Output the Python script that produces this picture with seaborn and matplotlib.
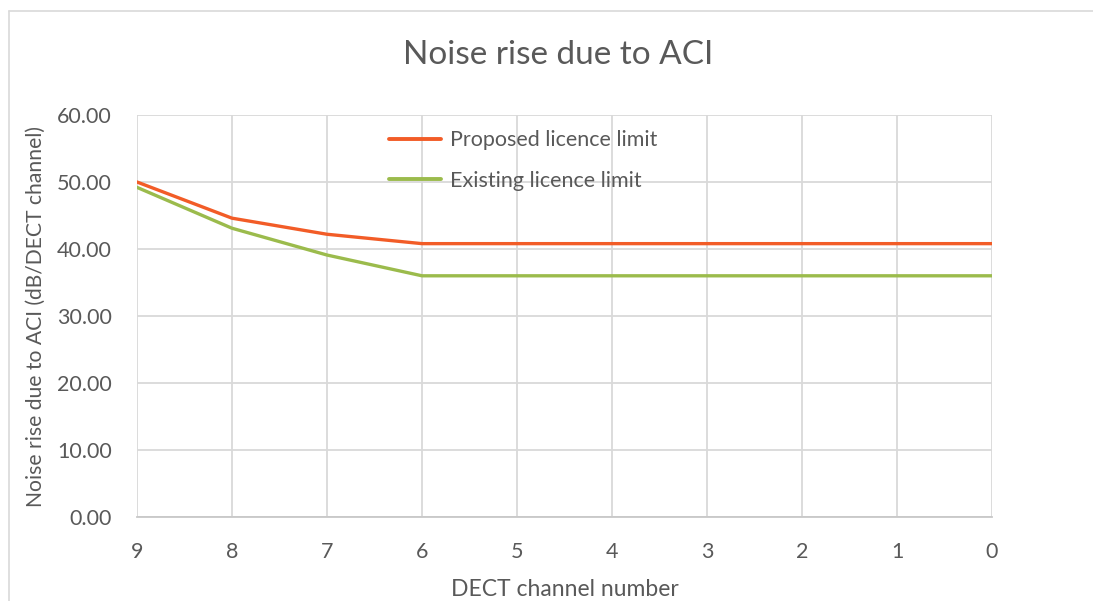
import matplotlib
matplotlib.use("Agg")
import matplotlib.pyplot as plt
from matplotlib.lines import Line2D
import seaborn as sns
import pandas as pd

channels = ["9", "8", "7", "6", "5", "4", "3", "2", "1", "0"]
proposed = [50.0, 44.6, 42.2, 40.8, 40.8, 40.8, 40.8, 40.8, 40.8, 40.8]
existing = [49.2, 43.1, 39.1, 36.0, 36.0, 36.0, 36.0, 36.0, 36.0, 36.0]
series_names = ["Proposed licence limit", "Existing licence limit"]
y_ticks = [0, 10, 20, 30, 40, 50, 60]

df = pd.DataFrame({
    "channel": channels * 2,
    "value": proposed + existing,
    "series": [series_names[0]] * len(channels) + [series_names[1]] * len(channels),
})

sns.set_theme(style="white")
plt.rcParams["font.family"] = ["Lato", "DejaVu Sans"]

text_gray = "#595959"
grid_gray = "#d9d9d9"
palette = {series_names[0]: "#F25C27", series_names[1]: "#9BBB4C"}

fig = plt.figure(figsize=(10.93, 6.01), dpi=100)
W, H = 1093, 601
ax = fig.add_axes([137 / W, 1 - 517 / H, (992 - 137) / W, (517 - 115) / H])

sns.lineplot(data=df, x="channel", y="value", hue="series", palette=palette,
             linewidth=2.4, ax=ax, sort=False, legend=True)

ax.set_xlim(0, len(channels) - 1)
ax.set_ylim(0, 60)
ax.set_yticks(y_ticks)
ax.set_yticklabels([f"{v:.2f}" for v in y_ticks])
ax.set_xticks(range(len(channels)))
ax.set_xticklabels(channels)

ax.grid(True, color=grid_gray, linewidth=1.3)
ax.set_axisbelow(True)
for side in ["top", "right", "left"]:
    ax.spines[side].set_visible(False)
ax.spines["bottom"].set_color("#c8c8c8")
ax.spines["bottom"].set_linewidth(1.3)

ax.tick_params(axis="both", length=0, labelsize=15.5, labelcolor=text_gray)
ax.tick_params(axis="y", pad=18)
ax.tick_params(axis="x", pad=18)

ax.set_xlabel("DECT channel number", fontsize=16.5, color=text_gray, labelpad=12)
ax.set_ylabel("Noise rise due to ACI (dB/DECT channel)", fontsize=15.2,
              color=text_gray, labelpad=8)

fig.text(558 / W, 1 - 55 / H, "Noise rise due to ACI", fontsize=24,
         color=text_gray, ha="center", va="center")

leg = ax.legend(loc="upper left", bbox_to_anchor=((370 - 137) / (992 - 137), 1.0 + 4 / 402),
                frameon=False, fontsize=15.5, handlelength=2.4, handletextpad=0.4,
                labelspacing=0.95)
for t in leg.get_texts():
    t.set_color(text_gray)
for h in leg.get_lines():
    h.set_linewidth(2.8)

# outer chart frame (top and left edges)
fig.add_artist(Line2D([9 / W, 1], [1 - 11 / H, 1 - 11 / H], color="#d9d9d9",
                      linewidth=1.2, transform=fig.transFigure))
fig.add_artist(Line2D([9 / W, 9 / W], [0, 1 - 11 / H], color="#d9d9d9",
                      linewidth=1.2, transform=fig.transFigure))

fig.savefig("out.png", dpi=100, facecolor="white")
